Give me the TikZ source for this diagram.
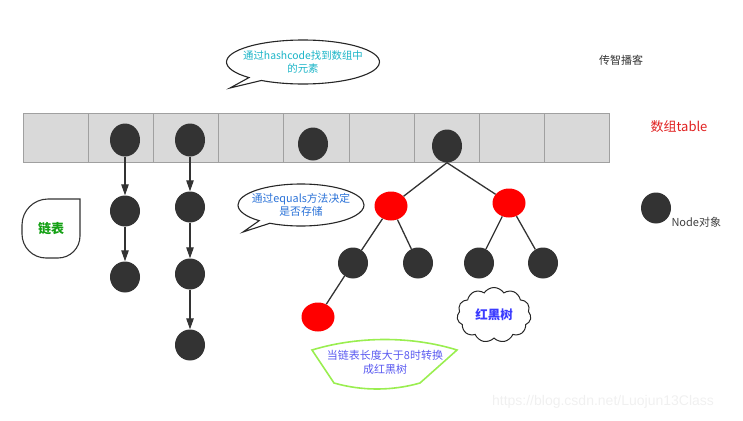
\documentclass[tikz,border=0pt]{standalone}
\usepackage{fontspec}
\setmainfont{Noto Sans CJK SC}
\newfontfamily\wmfont{Liberation Sans}
\usetikzlibrary{shapes.geometric,shapes.callouts,shapes.symbols,arrows.meta}
\definecolor{nodegray}{HTML}{333333}
\definecolor{cellfill}{HTML}{D9D9D9}
\definecolor{cellline}{HTML}{A0A0A0}
\definecolor{cyantext}{HTML}{1BB5C8}
\definecolor{bluetext}{HTML}{2A72D8}
\definecolor{fantext}{HTML}{5A5AF0}
\definecolor{fanline}{HTML}{9AEE50}
\definecolor{rbtext}{HTML}{3B3BFF}
\definecolor{greentext}{HTML}{14A014}
\definecolor{redtext}{HTML}{E02020}
\definecolor{wmgray}{HTML}{F0F0F0}
\tikzset{
  blk/.style={ellipse, fill=nodegray, minimum width=30pt, minimum height=31pt, inner sep=0pt},
  topblk/.style={ellipse, fill=nodegray, minimum width=30pt, minimum height=33pt, inner sep=0pt},
  rednode/.style={ellipse, fill=red, minimum width=33pt, minimum height=29pt, inner sep=0pt},
  cell/.style={draw=cellline, fill=cellfill, line width=1pt},
  listarrow/.style={draw=nodegray, line width=1.1pt, -{Triangle[length=11pt,width=7.5pt]}},
  treeline/.style={draw=nodegray, line width=1.3pt},
  bubble/.style={ellipse callout, draw=black!85, line width=1.1pt, fill=white, inner sep=0pt, callout pointer arc=12},
  bubbletext/.style={align=center, inner sep=0pt, font=\fontsize{11.2}{14}\selectfont},
}
\begin{document}
\begin{tikzpicture}[x=1pt,y=-1pt]
\useasboundingbox (0,0) rectangle (743,420);
% watermark
\node[font=\wmfont\fontsize{14}{16}\selectfont, text=wmgray, anchor=center] (wm) at (603,402) {https://blog.csdn.net/Luojun13Class};
% array
\foreach \i in {0,...,8} {
  \draw[cell] ({23+65.2*\i},113) rectangle ({23+65.2*(\i+1)},162);
}
\node[font=\fontsize{13}{15}\selectfont, text=redtext] (tbl) at (679,127) {数组table};
\node[font=\fontsize{11}{13}\selectfont, text=black!80] (brand) at (621,60) {传智播客};
% top nodes
\node[topblk] (a1) at (125,140) {};
\node[topblk] (a2) at (190,140) {};
\node[topblk] (a3) at (313,144) {};
\node[topblk] (root) at (447,146) {};
% lists
\node[blk] (l11) at (125,211) {};
\node[blk] (l12) at (125,277) {};
\node[blk] (l21) at (190,207) {};
\node[blk] (l22) at (190,274) {};
\node[blk] (l23) at (190,345) {};
\draw[listarrow] (a1) -- (l11);
\draw[listarrow] (l11) -- (l12);
\draw[listarrow] (a2) -- (l21);
\draw[listarrow] (l21) -- (l22);
\draw[listarrow] (l22) -- (l23);
% tree
\node[rednode] (r1) at (391,206) {};
\node[rednode] (r2) at (509,203) {};
\node[blk] (b1) at (353,263) {};
\node[blk] (b2) at (418,263) {};
\node[blk] (b3) at (479,263) {};
\node[blk] (b4) at (543,263) {};
\node[rednode] (r3) at (318,317) {};
\draw[treeline] (root.south) -- (r1);
\draw[treeline] (root.south) -- (r2);
\draw[treeline] (r1) -- (b1);
\draw[treeline] (r1) -- (b2);
\draw[treeline] (r2) -- (b3);
\draw[treeline] (r2) -- (b4);
\draw[treeline] (b1) -- (r3);
% legend
\node[blk] (leg) at (656,208) {};
\node[font=\fontsize{11}{13}\selectfont, text=black!75, anchor=west] (legt) at (668,222) {Node对象};
% bubbles
\node[bubble, minimum width=153pt, minimum height=44pt, callout absolute pointer={(230,88)}] (bub1) at (303,62) {};
\node[bubbletext, text=cyantext, font=\fontsize{10.4}{13.5}\selectfont] (bub1t) at (bub1.center) {通过hashcode找到数组中\\的元素};
\node[bubble, minimum width=126pt, minimum height=42pt, callout absolute pointer={(243,232)}] (bub2) at (301,205) {};
\node[bubbletext, text=bluetext, font=\fontsize{10.8}{13.5}\selectfont] (bub2t) at (bub2.center) {通过equals方法决定\\是否存储};
% linked-list label
\draw[black!80, line width=1.1pt] (80,199) -- (80,236) arc[start angle=0,end angle=90,radius=22] -- (46,258) arc[start angle=90,end angle=180,radius=24] -- (22,225) arc[start angle=180,end angle=270,radius=26] -- cycle;
\node[font=\bfseries\fontsize{13}{15}\selectfont, text=greentext] (lbl) at (51,229) {链表};
% cloud
\node[cloud, draw=black!85, line width=1pt, cloud puffs=11, cloud puff arc=115, aspect=1.35, minimum width=74pt, minimum height=55pt, inner sep=0pt, font=\bfseries\fontsize{12.5}{14}\selectfont, text=rbtext] (cloud) at (494,315) {红黑树};
% fan
\draw[fanline, line width=1.6pt] (312,350) .. controls (358,336) and (412,336) .. (457,350) -- (420,383) .. controls (392,391) and (362,391) .. (334,383) -- cycle;
\node[font=\fontsize{11}{14}\selectfont, text=fantext, align=center] (fant) at (385,362) {当链表长度大于8时转换\\成红黑树};
\end{tikzpicture}
\end{document}
